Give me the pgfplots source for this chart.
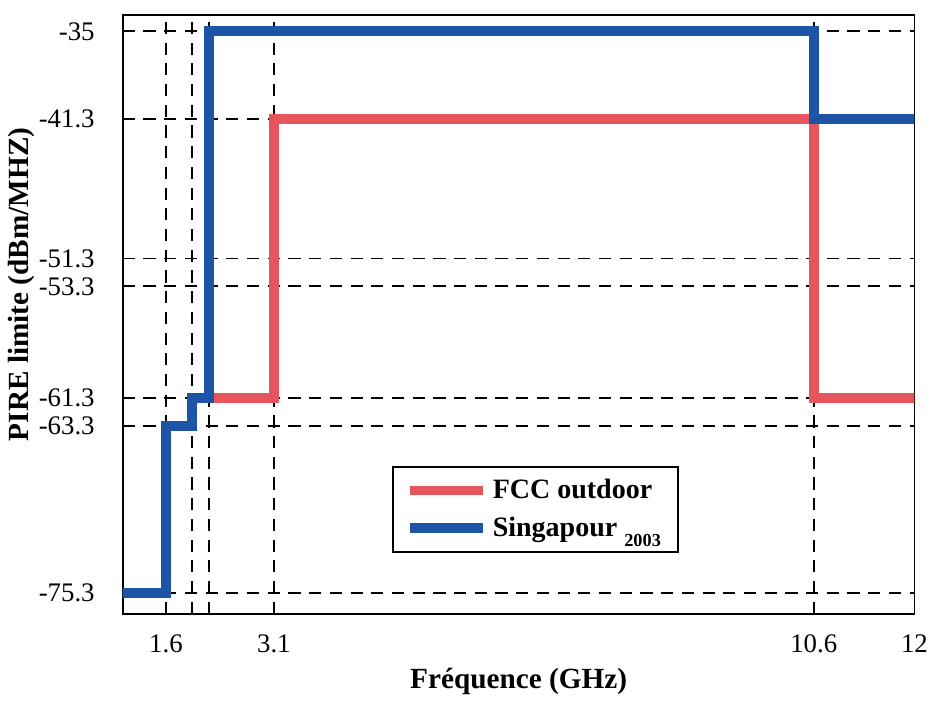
\documentclass[border=0pt]{standalone}
\usepackage{fontspec}
\setmainfont{Liberation Serif}
\usepackage{pgfplots}
\pgfplotsset{compat=1.18}
\definecolor{fccred}{RGB}{230,84,92}
\definecolor{sgblue}{RGB}{30,84,166}
\begin{document}
\begin{tikzpicture}
\begin{axis}[
  scale only axis, width=325pt, height=246pt,
  xmin=1, xmax=12, ymin=-76.8, ymax=-33.8,
  xtick={1.6,1.96,2.2,3.1,10.6,12},
  xticklabels={1.6,,,3.1,10.6,12},
  ytick={-75.3,-63.3,-61.3,-53.3,-51.3,-41.3,-35},
  yticklabels={-75.3,-63.3,-61.3,-53.3,-51.3,-41.3,-35},
  xtick pos=bottom, ytick pos=left, tick align=inside,
  major tick length=5pt,
  tick style={black, line width=0.6pt},
  axis line style={black, line width=0.8pt},
  grid=major,
  major grid style={black, dash pattern=on 5pt off 3.5pt, line width=0.75pt},
  tick label style={font=\fontsize{11}{13}\selectfont},
  xticklabel style={yshift=-5pt},
  yticklabel style={xshift=-8pt},
  xlabel={Fréquence (GHz)},
  ylabel={PIRE limite (dBm/MHZ)},
  label style={font=\fontsize{12}{14}\selectfont\bfseries},
  xlabel style={at={(axis description cs:0.5,-0.112)}, anchor=center},
  ylabel style={at={(axis description cs:-0.128,0.55)}, anchor=center},
  legend style={at={(0.34,0.247)}, anchor=north west, draw=black, line width=0.8pt,
    font=\fontsize{11.5}{14}\selectfont\bfseries, cells={anchor=west},
    inner xsep=5pt, inner ysep=3pt, row sep=2pt},
  legend image code/.code={\draw[#1, line width=4pt] (0pt,0pt) -- (30pt,0pt);},
]
\addplot[fccred, line width=4pt, line join=miter] coordinates {
  (2.2,-61.3) (3.1,-61.3) (3.1,-41.3) (10.6,-41.3) (10.6,-61.3) (12.2,-61.3)};
\addlegendentry{FCC outdoor}
\addplot[sgblue, line width=4pt, line join=miter] coordinates {
  (0.8,-75.3) (1.6,-75.3) (1.6,-63.3) (1.96,-63.3) (1.96,-61.3) (2.2,-61.3)
  (2.2,-35) (10.6,-35) (10.6,-41.3) (12.2,-41.3)};
\addlegendentry{Singapour\ \raisebox{-0.8ex}{\fontsize{7.5}{9}\selectfont 2003}}
\end{axis}
\path ([xshift=-48pt,yshift=-38pt]current axis.south west) rectangle ([xshift=7pt,yshift=6pt]current axis.north east);
\end{tikzpicture}
\end{document}
